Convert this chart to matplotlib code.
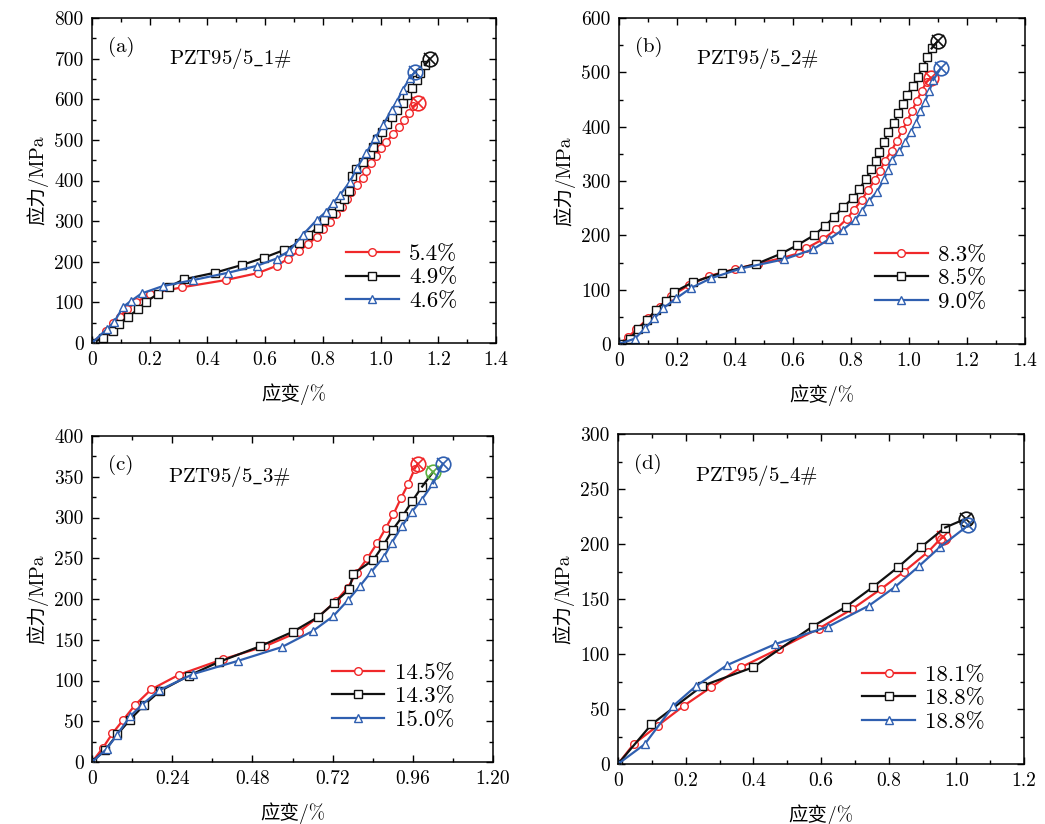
import matplotlib
matplotlib.use("Agg")
import matplotlib.pyplot as plt
from matplotlib.ticker import MultipleLocator

plt.rcParams['font.family'] = ['cmr10', 'Noto Sans CJK SC', 'DejaVu Sans']
plt.rcParams['mathtext.fontset'] = 'cm'
plt.rcParams['axes.unicode_minus'] = False

RED = '#f0282a'
BLACK = '#111111'
BLUE = '#2f5fb0'

# (a) PZT95/5_1#
a_red_x = [0, 0.049, 0.074, 0.097, 0.120, 0.152, 0.201, 0.311, 0.464, 0.574, 0.640, 0.680, 0.718,
           0.750, 0.779, 0.801, 0.825, 0.845, 0.865, 0.883, 0.896, 0.917, 0.938, 0.949, 0.966, 0.984,
           1.001, 1.019, 1.044, 1.065, 1.081, 1.099, 1.113]
a_red_y = [0, 30, 50, 65, 83, 100, 121, 137, 155, 172, 190, 208, 227, 244, 262, 280, 298, 318, 336,
           354, 372, 388, 406, 424, 442, 460, 479, 495, 514, 531, 549, 567, 583]
a_red_end = (1.13, 591)
a_blk_x = [0, 0.037, 0.072, 0.095, 0.126, 0.160, 0.187, 0.230, 0.268, 0.320, 0.426, 0.519, 0.596,
           0.666, 0.718, 0.750, 0.782, 0.805, 0.833, 0.855, 0.874, 0.892, 0.900, 0.915, 0.938, 0.963,
           0.975, 0.986, 1.004, 1.021, 1.038, 1.056, 1.079, 1.090, 1.110, 1.125, 1.137, 1.154]
a_blk_y = [0, 12, 30, 48, 65, 83, 102, 121, 139, 157, 173, 192, 210, 229, 247, 266, 284, 302, 319,
           337, 355, 374, 411, 429, 446, 465, 483, 501, 519, 538, 556, 574, 592, 610, 628, 647, 665, 684]
a_blk_end = (1.17, 700)
a_blu_x = [0, 0.051, 0.077, 0.108, 0.134, 0.172, 0.245, 0.351, 0.472, 0.571, 0.640, 0.684, 0.730,
           0.779, 0.811, 0.834, 0.859, 0.894, 0.917, 0.949, 0.981, 1.009, 1.038, 1.056, 1.077, 1.102]
a_blu_y = [0, 34, 52, 89, 103, 122, 140, 155, 173, 190, 208, 227, 266, 303, 323, 344, 364, 397, 430,
           467, 504, 537, 574, 594, 624, 652]
a_blu_end = (1.12, 668)

# (b) PZT95/5_2#
b_red_x = [0, 0.03, 0.06, 0.10, 0.14, 0.18, 0.24, 0.31, 0.40, 0.48, 0.56, 0.62, 0.645, 0.704, 0.748,
           0.785, 0.810, 0.837, 0.858, 0.883, 0.900, 0.917, 0.940, 0.958, 0.977, 0.994, 1.011, 1.027,
           1.044, 1.061]
b_red_y = [0, 12, 27, 47, 68, 88, 108, 125, 138, 148, 158, 167, 176, 193, 211, 230, 247, 265, 283,
           302, 319, 337, 356, 374, 393, 411, 429, 448, 466, 483]
b_red_end = (1.075, 490)
b_blk_x = [0, 0.038, 0.067, 0.098, 0.127, 0.162, 0.191, 0.256, 0.354, 0.472, 0.558, 0.615, 0.672,
           0.710, 0.742, 0.773, 0.806, 0.829, 0.852, 0.868, 0.886, 0.898, 0.914, 0.927, 0.948, 0.963,
           0.978, 0.992, 1.013, 1.030, 1.049, 1.063, 1.078]
b_blk_y = [0, 10, 28, 44, 63, 79, 96, 114, 131, 147, 166, 182, 200, 217, 234, 252, 268, 286, 303,
           322, 337, 354, 372, 390, 407, 425, 442, 458, 475, 492, 510, 528, 544]
b_blk_end = (1.10, 558)
b_blu_x = [0, 0.055, 0.090, 0.122, 0.153, 0.197, 0.248, 0.317, 0.421, 0.570, 0.668, 0.725, 0.771,
           0.814, 0.837, 0.863, 0.889, 0.914, 0.927, 0.940, 0.967, 0.986, 1.006, 1.024, 1.038, 1.055,
           1.070, 1.084]
b_blu_y = [0, 10, 29, 47, 66, 84, 103, 121, 139, 156, 174, 193, 210, 228, 245, 264, 280, 303, 321,
           339, 355, 372, 391, 407, 428, 446, 466, 486]
b_blu_end = (1.11, 508)

# (c) PZT95/5_3#
c_red_x = [0, 0.032, 0.061, 0.094, 0.129, 0.177, 0.260, 0.391, 0.518, 0.620, 0.677, 0.729, 0.765,
           0.792, 0.824, 0.854, 0.879, 0.902, 0.925, 0.946, 0.966]
c_red_y = [0, 17, 35, 52, 70, 89, 107, 126, 142, 160, 178, 197, 214, 232, 250, 269, 287, 304, 324,
           341, 360]
c_red_end = (0.975, 366)
c_blk_x = [0, 0.040, 0.076, 0.114, 0.156, 0.203, 0.290, 0.381, 0.503, 0.602, 0.677, 0.724, 0.770,
           0.782, 0.842, 0.872, 0.900, 0.930, 0.958, 0.988]
c_blk_y = [0, 15, 34, 52, 70, 87, 106, 123, 142, 160, 178, 195, 212, 231, 248, 266, 285, 302, 320,
           338]
c_blk_end = (1.021, 356)
c_blu_x = [0, 0.044, 0.074, 0.114, 0.149, 0.201, 0.303, 0.436, 0.568, 0.662, 0.722, 0.767, 0.802,
           0.835, 0.874, 0.897, 0.927, 0.957, 0.987, 1.021]
c_blu_y = [0, 16, 33, 56, 70, 88, 108, 124, 141, 161, 179, 199, 216, 233, 252, 269, 289, 307, 322,
           342]
c_blu_end = (1.05, 366)

# (d) PZT95/5_4#
d_red_x = [0, 0.046, 0.118, 0.195, 0.276, 0.364, 0.477, 0.593, 0.693, 0.777, 0.846, 0.917, 0.954]
d_red_y = [0, 18, 35, 53, 70, 88, 105, 123, 141, 159, 175, 193, 205]
d_red_end = (0.961, 206)
d_blk_x = [0, 0.099, 0.249, 0.400, 0.575, 0.674, 0.754, 0.828, 0.895, 0.967]
d_blk_y = [0, 36, 71, 88, 125, 143, 161, 179, 197, 215]
d_blk_end = (1.028, 223)
d_blu_x = [0, 0.079, 0.164, 0.231, 0.323, 0.465, 0.622, 0.742, 0.819, 0.890, 0.951]
d_blu_y = [0, 18, 53, 71, 90, 109, 125, 144, 161, 180, 197]
d_blu_end = (1.035, 217)

panels = [
    dict(tag='(a)', name='1', labels=['5.4%', '4.9%', '4.6%'],
         series=[(a_red_x, a_red_y, a_red_end), (a_blk_x, a_blk_y, a_blk_end), (a_blu_x, a_blu_y, a_blu_end)],
         end_colors=[RED, BLACK, BLUE],
         xlim=1.4, xmaj=0.2, xmin=0.1, xfmt='%.1f', ylim=800, ymaj=100, ymin=50,
         pos=[92 / 1045, 1 - 343 / 824, 404 / 1045, 325 / 824]),
    dict(tag='(b)', name='2', labels=['8.3%', '8.5%', '9.0%'],
         series=[(b_red_x, b_red_y, b_red_end), (b_blk_x, b_blk_y, b_blk_end), (b_blu_x, b_blu_y, b_blu_end)],
         end_colors=[RED, BLACK, BLUE],
         xlim=1.4, xmaj=0.2, xmin=0.1, xfmt='%.1f', ylim=600, ymaj=100, ymin=50,
         pos=[619 / 1045, 1 - 344 / 824, 406 / 1045, 326 / 824]),
    dict(tag='(c)', name='3', labels=['14.5%', '14.3%', '15.0%'],
         series=[(c_red_x, c_red_y, c_red_end), (c_blk_x, c_blk_y, c_blk_end), (c_blu_x, c_blu_y, c_blu_end)],
         end_colors=[RED, '#5cb040', BLUE],
         xlim=1.2, xmaj=0.24, xmin=0.12, xfmt='%.2f', ylim=400, ymaj=50, ymin=25,
         pos=[92 / 1045, 1 - 762 / 824, 401 / 1045, 326 / 824]),
    dict(tag='(d)', name='4', labels=['18.1%', '18.8%', '18.8%'],
         series=[(d_red_x, d_red_y, d_red_end), (d_blk_x, d_blk_y, d_blk_end), (d_blu_x, d_blu_y, d_blu_end)],
         end_colors=[RED, BLACK, BLUE],
         xlim=1.2, xmaj=0.2, xmin=0.1, xfmt='%.1f', ylim=300, ymaj=50, ymin=25,
         pos=[618 / 1045, 1 - 764 / 824, 406 / 1045, 330 / 824]),
]

styles = [dict(color=RED, marker='o'), dict(color=BLACK, marker='s'), dict(color=BLUE, marker='^')]

fig = plt.figure(figsize=(10.45, 8.24), dpi=100)

for p in panels:
    ax = fig.add_axes(p['pos'])
    for (xs, ys, end), st, lab, ec in zip(p['series'], styles, p['labels'], p['end_colors']):
        ax.plot(xs, ys, color=st['color'], marker=st['marker'], ms=5.5, mfc='white',
                mec=st['color'], mew=1.0, lw=1.6, label=lab)
        ax.plot([xs[-1], end[0]], [ys[-1], end[1]], color=st['color'], lw=1.6)
        ax.plot(end[0], end[1], marker='o', ms=10.5, mfc='none', mec=ec, mew=1.2)
        ax.plot(end[0], end[1], marker='x', ms=9, mec=ec, mew=1.2)
    ax.set_xlim(0, p['xlim'])
    ax.set_ylim(0, p['ylim'])
    ax.xaxis.set_major_locator(MultipleLocator(p['xmaj']))
    ax.xaxis.set_minor_locator(MultipleLocator(p['xmin']))
    ax.yaxis.set_major_locator(MultipleLocator(p['ymaj']))
    ax.yaxis.set_minor_locator(MultipleLocator(p['ymin']))
    ax.xaxis.set_major_formatter(lambda v, pos, f=p['xfmt']: '0' if abs(v) < 1e-9 else f % v)
    ax.tick_params(which='both', direction='in', top=True, right=True, labelsize=14)
    ax.tick_params(which='major', length=5, width=1, pad=6)
    ax.tick_params(which='minor', length=3, width=1)
    for s in ax.spines.values():
        s.set_linewidth(1.1)
    ax.set_xlabel('应变/%', fontsize=14, labelpad=10)
    ax.set_ylabel('应力/MPa', fontsize=14, labelpad=4)
    ax.text(0.04, 0.91, p['tag'], transform=ax.transAxes, fontsize=15, va='center')
    ax.text(0.19, 0.875, r'$\mathrm{PZT95/5\_%s\#}$' % p['name'], transform=ax.transAxes,
            fontsize=15, va='center')
    ax.legend(loc='lower right', bbox_to_anchor=(0.955, 0.035), frameon=False, fontsize=16.5,
              handlelength=2.3, handletextpad=0.45, labelspacing=0.15)

fig.savefig('out.png', dpi=100)
